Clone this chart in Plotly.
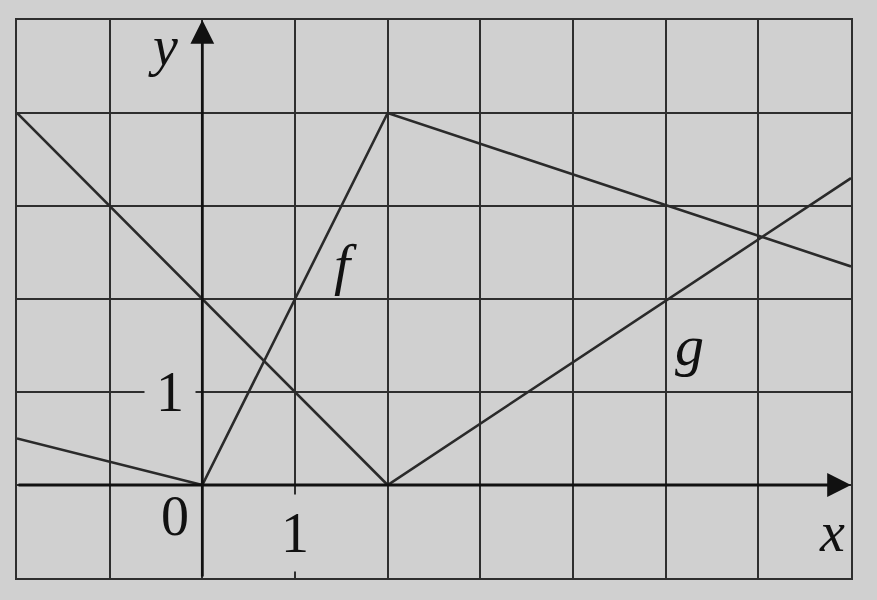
import plotly.graph_objects as go

# Data
f_x = [-2, 0, 2, 7]
f_y = [0.5, 0, 4, 2.35]
g_x = [-2, 2, 7]
g_y = [4, 0, 3.3]

x_range = [-2, 7]
y_range = [-1, 5]

BG = "#d0d0d0"
INK = "#2a2a2a"
FONT = "Liberation Serif, Times New Roman, serif"

fig = go.Figure()
fig.add_trace(go.Scatter(x=f_x, y=f_y, mode="lines", name="f",
                         line=dict(color=INK, width=2.6), hoverinfo="skip"))
fig.add_trace(go.Scatter(x=g_x, y=g_y, mode="lines", name="g",
                         line=dict(color=INK, width=2.6), hoverinfo="skip"))

annotations = []
# axes with arrows
annotations.append(dict(x=7, y=0, ax=-2, ay=0, xref="x", yref="y", axref="x", ayref="y",
                        showarrow=True, arrowhead=2, arrowsize=1.7, arrowwidth=2.8,
                        arrowcolor="#111111", text=""))
annotations.append(dict(x=0, y=5, ax=0, ay=-1, xref="x", yref="y", axref="x", ayref="y",
                        showarrow=True, arrowhead=2, arrowsize=1.7, arrowwidth=2.8,
                        arrowcolor="#111111", text=""))

def label(text, x, y, italic=False, size=54, bg=None, w=None, h=None):
    t = f"<i>{text}</i>" if italic else text
    d = dict(x=x, y=y, xref="x", yref="y", text=t, showarrow=False,
             font=dict(family=FONT, size=size, color="#111111"))
    if bg:
        d["bgcolor"] = bg
    if w:
        d["width"] = w
    if h:
        d["height"] = h
    annotations.append(d)

label("y", -0.42, 4.72, italic=True, size=56)
label("x", 6.8, -0.5, italic=True, size=56)
label("f", 1.55, 2.37, italic=True, size=58)
label("g", 5.26, 1.5, italic=True, size=58)
label("0", -0.3, -0.33, size=56)
label("1", 1.0, -0.52, size=56, bg=BG, w=40, h=74)
label("1", -0.35, 1.0, size=56, bg=BG, w=48, h=50)

fig.update_layout(
    width=877, height=600,
    margin=dict(l=17, r=26, t=20, b=22),
    paper_bgcolor=BG, plot_bgcolor=BG,
    showlegend=False,
    annotations=annotations,
)
fig.update_xaxes(range=x_range, dtick=1, tick0=0, showgrid=True, gridcolor="#2e2e2e",
                 gridwidth=2.2, zeroline=False, showticklabels=False, ticks="",
                 showline=True, mirror=True, linecolor="#2e2e2e", linewidth=2.2,
                 fixedrange=True)
fig.update_yaxes(range=y_range, dtick=1, tick0=0, showgrid=True, gridcolor="#2e2e2e",
                 gridwidth=2.2, zeroline=False, showticklabels=False, ticks="",
                 showline=True, mirror=True, linecolor="#2e2e2e", linewidth=2.2,
                 fixedrange=True)

fig.write_html("out.html", config={"displayModeBar": False},
               post_script="document.body.style.margin='0';document.body.style.background='%s';document.body.style.overflow='hidden';" % BG)
